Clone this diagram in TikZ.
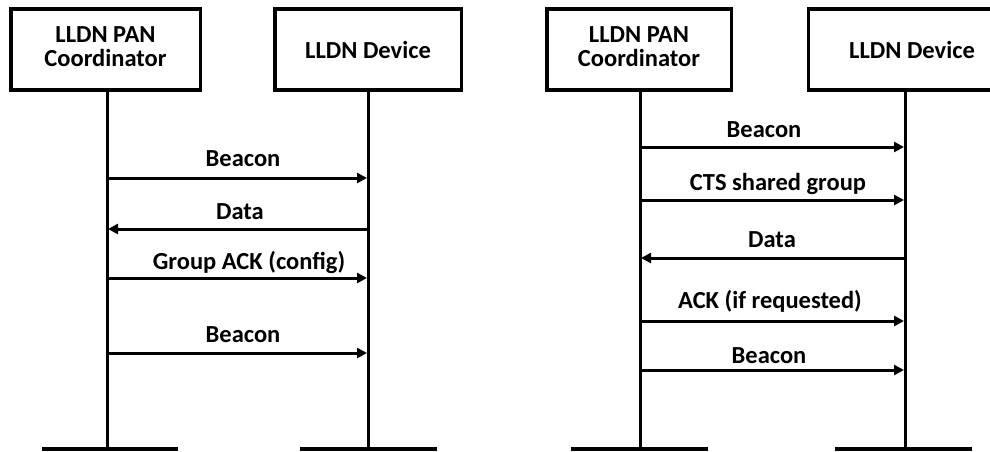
\documentclass[tikz,border=0pt]{standalone}
\usepackage{fontspec}
\setmainfont{Carlito}
\usetikzlibrary{arrows.meta}
\newcommand\boxtext[1]{\raisebox{-3pt}{\begin{tabular}{@{}c@{}}#1\end{tabular}}}
\begin{document}
\begin{tikzpicture}[x=1pt,y=-1pt,
  entity/.style={draw=black,line width=3.5pt,fill=white,inner sep=0pt,
    minimum height=81pt,align=center,
    font=\fontsize{24.5}{23}\selectfont\bfseries},
  life/.style={line width=3pt},
  base/.style={line width=4pt},
  msg/.style={line width=3pt,-{Triangle[length=10pt,width=10pt]},shorten >=1pt},
  lbl/.style={anchor=base,inner sep=0pt,font=\fontsize{24.5}{28}\selectfont\bfseries}]
\useasboundingbox (0,0) rectangle (990,451);
\clip (0,0) rectangle (990,451);

% ---- left chart: group acknowledgement ----
\node[entity,minimum width=189.5pt] (b1) at (105.5,49.5) {\boxtext{LLDN PAN\\Coordinator}};
\node[entity,minimum width=186.5pt] (b2) at (368,49.5) {LLDN Device};
\coordinate (e1) at (107,449);
\coordinate (e2) at (368,449);
\draw[life] (b1.south -| e1) -- (e1);
\draw[life] (b2.south) -- (e2);
\draw[base] (42,449) -- (e1) -- (178,449);
\draw[base] (300,449) -- (e2) -- (437,449);

\path (107,178) coordinate (p1a) (368,178) coordinate (p1b)
      (107,229) coordinate (p2a) (368,229) coordinate (p2b)
      (107,278) coordinate (p3a) (368,278) coordinate (p3b)
      (107,353) coordinate (p4a) (368,353) coordinate (p4b);
\draw[msg] (p1a) -- (p1b);
\draw[msg] (p2b) -- (p2a);
\draw[msg] (p3a) -- (p3b);
\draw[msg] (p4a) -- (p4b);
\node[lbl] (t1) at (243,166) {Beacon};
\node[lbl] (t2) at (240,219) {Data};
\node[lbl] (t3) at (249,269) {Group ACK (config)};
\node[lbl] (t4) at (243,342) {Beacon};

% ---- right chart: shared group with CTS ----
\node[entity,minimum width=184.5pt] (b3) at (639,49.5) {\boxtext{LLDN PAN\\Coordinator}};
\node[entity,minimum width=207pt] (b4) at (912,49.5) {LLDN Device};
\coordinate (e3) at (640,449);
\coordinate (e4) at (905,449);
\draw[life] (b3.south -| e3) -- (e3);
\draw[life] (b4.south -| e4) -- (e4);
\draw[base] (571,449) -- (e3) -- (708,449);
\draw[base] (835,449) -- (e4) -- (972,449);

\path (640,147) coordinate (q1a) (905,147) coordinate (q1b)
      (640,200) coordinate (q2a) (905,200) coordinate (q2b)
      (640,258) coordinate (q3a) (905,258) coordinate (q3b)
      (640,321) coordinate (q4a) (905,321) coordinate (q4b)
      (640,370) coordinate (q5a) (905,370) coordinate (q5b);
\draw[msg] (q1a) -- (q1b);
\draw[msg] (q2a) -- (q2b);
\draw[msg] (q3b) -- (q3a);
\draw[msg] (q4a) -- (q4b);
\draw[msg] (q5a) -- (q5b);
\node[lbl] (u1) at (764,137) {Beacon};
\node[lbl] (u2) at (778,190) {CTS shared group};
\node[lbl] (u3) at (772,247) {Data};
\node[lbl] (u4) at (770,308) {ACK (if requested)};
\node[lbl] (u5) at (769,363) {Beacon};
\end{tikzpicture}
\end{document}
